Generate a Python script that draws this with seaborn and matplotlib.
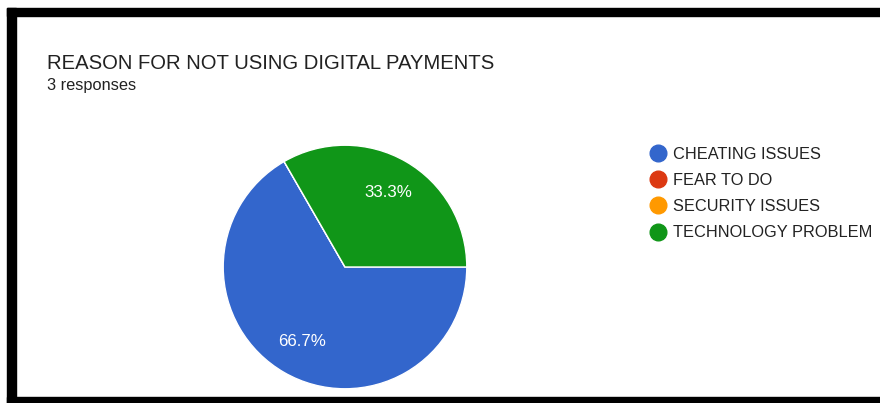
import matplotlib
matplotlib.use("Agg")
import matplotlib.pyplot as plt
from matplotlib.patches import Rectangle
from matplotlib.lines import Line2D
import seaborn as sns

# Survey data
categories = ["CHEATING ISSUES", "FEAR TO DO", "SECURITY ISSUES", "TECHNOLOGY PROBLEM"]
responses = [2, 0, 0, 1]
colors = ["#3366CC", "#DC3912", "#FF9900", "#109618"]
title = "REASON FOR NOT USING DIGITAL PAYMENTS"
subtitle = "3 responses"

sns.set_theme(style="white")
plt.rcParams["font.family"] = ["Liberation Sans", "DejaVu Sans"]
palette = sns.color_palette(colors)

W, H = 880, 403
fig = plt.figure(figsize=(W / 100, H / 100), dpi=100)
fig.patch.set_facecolor("white")


def fx(px):
    return px / W


def fy(py):
    return 1 - py / H


# Black frame (top, left, bottom)
for (x0, y0, x1, y1) in [(7, 8, 880, 16), (7, 8, 16, 403), (7, 397, 880, 403)]:
    fig.patches.append(Rectangle((fx(x0), fy(y1)), fx(x1) - fx(x0), fy(y0) - fy(y1),
                                 transform=fig.transFigure, color="black", zorder=10))

fig.text(fx(47), fy(69), title, fontsize=14.6, color="#212121", va="baseline", ha="left")
fig.text(fx(47), fy(90), subtitle, fontsize=11.8, color="#212121", va="baseline", ha="left")

# Pie
cx, cy, r = 345, 267, 123
ax = fig.add_axes([fx(cx - r), fy(cy + r), 2 * r / W, 2 * r / H])


def pct(p):
    return f"{p:.1f}%" if p > 0 else ""


wedges, texts, autotexts = ax.pie(
    responses, colors=palette, startangle=0, counterclock=False,
    autopct=pct, pctdistance=0.71,
    wedgeprops=dict(edgecolor="white", linewidth=1),
    textprops=dict(color="white", fontsize=12.2),
)
ax.set_xlim(-1.01, 1.01)
ax.set_ylim(-1.01, 1.01)
ax.set_aspect("equal")
ax.axis("off")

# Legend
handles = [Line2D([0], [0], marker="o", linestyle="none", markersize=12,
                  markerfacecolor=c, markeredgecolor=c) for c in palette]
leg = fig.legend(handles, categories, loc="upper left",
                 bbox_to_anchor=(fx(648), fy(147)), frameon=False,
                 fontsize=11.75, labelspacing=0.68, handletextpad=0.35,
                 handlelength=1.2, borderpad=0, borderaxespad=0)
for t in leg.get_texts():
    t.set_color("#222222")

fig.savefig("out.png", dpi=100, facecolor="white")
